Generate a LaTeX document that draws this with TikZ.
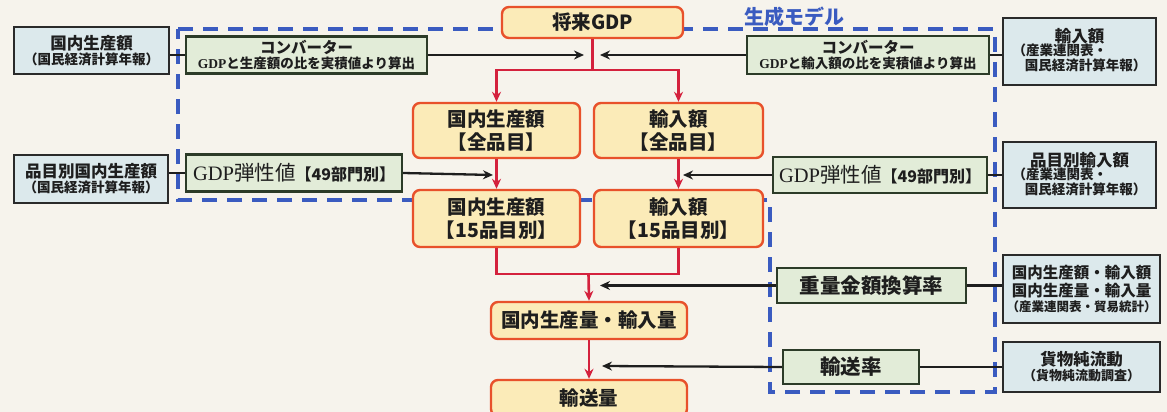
\documentclass[tikz,border=0pt]{standalone}
\usepackage{fontspec}
\setmainfont{Noto Sans CJK JP}
\newfontfamily\ser{Liberation Serif}
\usetikzlibrary{arrows.meta}
\definecolor{bg}{HTML}{F6F3EC}
\definecolor{ofill}{HTML}{FBEBB8}
\definecolor{odraw}{HTML}{E8512B}
\definecolor{gfill}{HTML}{E2ECD8}
\definecolor{gdraw}{HTML}{2C3B28}
\definecolor{sfill}{HTML}{DCE9EC}
\definecolor{sdraw}{HTML}{2A2A2A}
\definecolor{redl}{HTML}{D4213D}
\definecolor{blue1}{HTML}{3A5BC0}
\definecolor{txt}{HTML}{1E1E1E}
\newcommand{\fs}[1]{\fontsize{#1}{#1}\selectfont}
\tikzset{
  box/.style={inner sep=0pt, align=center, text=txt},
  obox/.style={box, rounded corners=7pt, draw=odraw, fill=ofill, line width=2.4pt, font=\fs{19.5}\bfseries},
  gbox/.style={box, draw=gdraw, fill=gfill, line width=2.2pt},
  sbox/.style={box, draw=sdraw, fill=sfill, line width=2.2pt},
  blk/.style={draw=txt, line width=2.3pt},
  blkarr/.style={blk, -{Stealth[length=10pt,width=9pt]}},
  redline/.style={draw=redl, line width=2.6pt},
  redarr/.style={redline, -{Stealth[length=10pt,width=9pt]}},
}
\begin{document}
\begin{tikzpicture}[x=1pt,y=-1pt]
\fill[bg] (0,0) rectangle (1167,412);
\useasboundingbox (0,0) rectangle (1167,412);
% generation model region
\draw[blue1, line width=3.2pt, dash pattern=on 15pt off 10pt]
  (178,29) -- (995,29) -- (995,392) -- (770,392) -- (770,200) -- (178,200) -- cycle;
\node[anchor=west, text=blue1, font=\fs{20}\bfseries] (lbl) at (741,17) {生成モデル};

% central flow
\node[obox, minimum width=181pt, minimum height=31pt] (gdp) at (592.5,22.5) {将来GDP};
\node[obox, minimum width=167pt, minimum height=55pt] (domA) at (496.5,130.5) {国内生産額\\[3pt]【全品目】};
\node[obox, minimum width=169pt, minimum height=55pt] (impA) at (678.5,130.5) {輸入額\\[3pt]【全品目】};
\node[obox, minimum width=167pt, minimum height=57pt] (domB) at (496.5,218.5) {国内生産額\\[3pt]【15品目別】};
\node[obox, minimum width=169pt, minimum height=57pt] (impB) at (678.5,218.5) {輸入額\\[3pt]【15品目別】};
\node[obox, minimum width=196pt, minimum height=37pt] (prodvol) at (589,320.5) {国内生産量・輸入量};
\node[obox, minimum width=196pt, minimum height=36pt] (transv) at (589,398) {輸送量};

% green boxes
\node[gbox, minimum width=241pt, minimum height=37pt] (convL) at (306.5,55)
  {{\fs{15.5}\bfseries コンバーター}\\[1pt]{\fs{13.5}\bfseries{\ser GDP}と生産額の比を実積値より算出}};
\node[gbox, minimum width=242pt, minimum height=38pt] (convR) at (868,55)
  {{\fs{15.5}\bfseries コンバーター}\\[1pt]{\fs{13.5}\bfseries{\ser GDP}と輸入額の比を実積値より算出}};
\node[gbox, minimum width=216pt, minimum height=37pt] (elastL) at (294,173)
  {{\fs{20.5}{\ser GDP}弾性値}{\fs{16}\bfseries【49部門別】}};
\node[gbox, minimum width=214pt, minimum height=36pt] (elastR) at (880,175)
  {{\fs{20.5}{\ser GDP}弾性値}{\fs{16}\bfseries【49部門別】}};
\node[gbox, minimum width=189pt, minimum height=35pt, font=\fs{20.5}\bfseries] (weight) at (871.5,285.5) {重量金額換算率};
\node[gbox, minimum width=136pt, minimum height=34pt, font=\fs{20.5}\bfseries] (rate) at (851,367) {輸送率};

% source boxes
\node[sbox, minimum width=155pt, minimum height=47pt] (srcL1) at (91.5,50.5)
  {{\fs{16.5}\bfseries 国内生産額}\\[1pt]{\fs{13.5}\bfseries （国民経済計算年報）}};
\node[sbox, minimum width=154pt, minimum height=48pt] (srcL2) at (91,179)
  {{\fs{16.5}\bfseries 品目別国内生産額}\\[1pt]{\fs{13.5}\bfseries （国民経済計算年報）}};
\node[sbox, minimum width=153pt, minimum height=67pt] (srcR1) at (1079.5,51.5)
  {{\fs{16.5}\bfseries 輸入額}\\[-1pt]{\fs{13.5}\bfseries\begin{tabular}{@{}l@{}}（産業連関表・\\[-1pt]\hspace{0.9em}国民経済計算年報）\end{tabular}}};
\node[sbox, minimum width=153pt, minimum height=66pt] (srcR2) at (1079.5,175)
  {{\fs{16.5}\bfseries 品目別輸入額}\\[-1pt]{\fs{13.5}\bfseries\begin{tabular}{@{}l@{}}（産業連関表・\\[-1pt]\hspace{0.9em}国民経済計算年報）\end{tabular}}};
\node[sbox, minimum width=157pt, minimum height=68pt] (srcR3) at (1081.5,289)
  {{\fs{15.5}\bfseries 国内生産額・輸入額}\\[2pt]{\fs{15.5}\bfseries 国内生産量・輸入量}\\[2pt]{\fs{12.5}\bfseries （産業連関表・貿易統計）}};
\node[sbox, minimum width=157pt, minimum height=50pt] (srcR4) at (1081.5,367)
  {{\fs{16.5}\bfseries 貨物純流動}\\[1pt]{\fs{13}\bfseries （貨物純流動調査）}};

% coordinates
\coordinate (jL) at (584,55);
\coordinate (jR) at (600,55);
\coordinate (split1) at (592.5,70);
\coordinate (eL) at (493,175);
\coordinate (eR) at (683,175);
\coordinate (join2) at (588.5,274);
\coordinate (wT) at (600,285.5);
\coordinate (rT) at (602,366);

% red flow
\draw[redline] (gdp.south) -- (split1);
\draw[redarr] (split1) -| (domA.north);
\draw[redarr] (split1) -| (impA.north);
\draw[redarr] (domA.south) -- (domB.north);
\draw[redarr] (impA.south) -- (impB.north);
\draw[redline] (domB.south) -- (domB.south |- join2) -- (impB.south |- join2) -- (impB.south);
\draw[redarr] (join2) -- (prodvol.north);
\draw[redarr] (prodvol.south) -- (transv.north);

% black inputs
\draw[blkarr] (convL.east) -- (jL);
\draw[blkarr] (convR.west) -- (jR);
\draw[blkarr] (elastL.east) -- (eL);
\draw[blkarr] (elastR.west) -- (eR);
\draw[blkarr] (weight.west) -- (wT);
\draw[blkarr] (rate.west) -- (rT);

% source links
\draw[blk] (convL.west -| srcL1.east) -- (convL.west);
\draw[blk] (elastL.west -| srcL2.east) -- (elastL.west);
\draw[blk] (convR.east) -- (convR.east -| srcR1.west);
\draw[blk] (elastR.east) -- (elastR.east -| srcR2.west);
\draw[blk] (weight.east) -- (weight.east -| srcR3.west);
\draw[blk] (rate.east) -- (rate.east -| srcR4.west);
\end{tikzpicture}
\end{document}
